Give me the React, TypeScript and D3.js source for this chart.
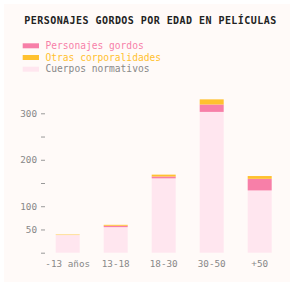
import React, { useRef, useEffect } from 'react';
import * as d3 from 'd3';

const ageGroups = ['-13 años', '13-18', '18-30', '30-50', '+50'];
const normativos = [38, 55, 160, 303, 134];
const gordos = [0, 3, 4, 16, 25];
const otras = [1, 2, 4, 11, 6];

const seriesNames = ['Personajes gordos', 'Otras corporalidades', 'Cuerpos normativos'];
const yTicks = [0, 50, 100, 150, 200, 250, 300];
const yLabeled = [50, 100, 200, 300];

const colors = {
  gordos: '#f77fa8',
  otras: '#ffc12f',
  normativos: '#ffe6ef',
};

const w = 294;
const h = 286;
const font = '"DejaVu Sans Mono", monospace';

const App = () => {
  const svgRef = useRef<SVGSVGElement>(null);

  useEffect(() => {
    const svg = d3.select(svgRef.current);
    svg.selectAll('*').remove();

    // card background
    svg.append('rect')
      .attr('x', 4).attr('y', 4)
      .attr('width', w - 8).attr('height', h - 8)
      .attr('fill', '#fffaf8');

    svg.append('text')
      .attr('x', 24.3).attr('y', 24)
      .attr('font-family', font)
      .attr('font-weight', 'bold')
      .attr('font-size', 10)
      .attr('letter-spacing', 0.45)
      .attr('fill', '#222')
      .text('PERSONAJES GORDOS POR EDAD EN PELÍCULAS');

    // legend
    const legendColors = [colors.gordos, colors.otras, colors.normativos];
    const legendText = [colors.gordos, colors.otras, '#888'];
    const legend = svg.append('g');
    seriesNames.forEach((name, i) => {
      const cy = 45.8 + i * 11.7;
      legend.append('rect')
        .attr('x', 22.7).attr('y', cy - 2.5)
        .attr('width', 16.3).attr('height', 5)
        .attr('fill', legendColors[i]);
      legend.append('text')
        .attr('x', 45.5).attr('y', cy)
        .attr('dominant-baseline', 'middle')
        .attr('font-family', font)
        .attr('font-size', 9.6)
        .attr('fill', legendText[i])
        .text(name);
    });

    // scales
    const xScale = d3.scaleBand()
      .domain(ageGroups)
      .range([43.7, 283.7])
      .paddingInner(0.5)
      .paddingOuter(0.25);

    const yScale = d3.scaleLinear()
      .domain([0, 300])
      .range([252.7, 113.3]);

    // stacked bars
    const rows = ageGroups.map((g, i) => ({
      group: g,
      normativos: normativos[i],
      gordos: gordos[i],
      otras: otras[i],
    }));
    const stack = d3.stack<any>().keys(['normativos', 'gordos', 'otras']);
    const layers = stack(rows);

    svg.append('g')
      .selectAll('g')
      .data(layers)
      .enter()
      .append('g')
      .attr('fill', d => (colors as any)[d.key])
      .selectAll('rect')
      .data(d => d)
      .enter()
      .append('rect')
      .attr('x', d => xScale(d.data.group)!)
      .attr('y', d => yScale(d[1]))
      .attr('width', xScale.bandwidth())
      .attr('height', d => yScale(d[0]) - yScale(d[1]));

    // y axis
    const yAxis = svg.append('g')
      .attr('transform', 'translate(45,0)')
      .call(
        d3.axisLeft(yScale)
          .tickValues(yTicks)
          .tickSize(4)
          .tickPadding(4)
          .tickFormat(d => (yLabeled.includes(d as number) ? String(d) : ''))
      );
    yAxis.select('.domain').remove();
    yAxis.selectAll('line').attr('stroke', '#999');
    yAxis.selectAll('text')
      .attr('font-family', font)
      .attr('font-size', 9.3)
      .attr('fill', '#888');

    // x axis
    const xAxis = svg.append('g')
      .attr('transform', 'translate(0,252.7)')
      .call(d3.axisBottom(xScale).tickSize(0).tickPadding(8));
    xAxis.select('.domain').remove();
    xAxis.selectAll('text')
      .attr('font-family', font)
      .attr('font-size', 9.3)
      .attr('fill', '#888');
  }, []);

  return (
    <svg
      ref={svgRef}
      width={w}
      height={h}
      style={{ position: 'absolute', left: 0, top: 0, background: '#fff' }}
    ></svg>
  );
};

export default App;
